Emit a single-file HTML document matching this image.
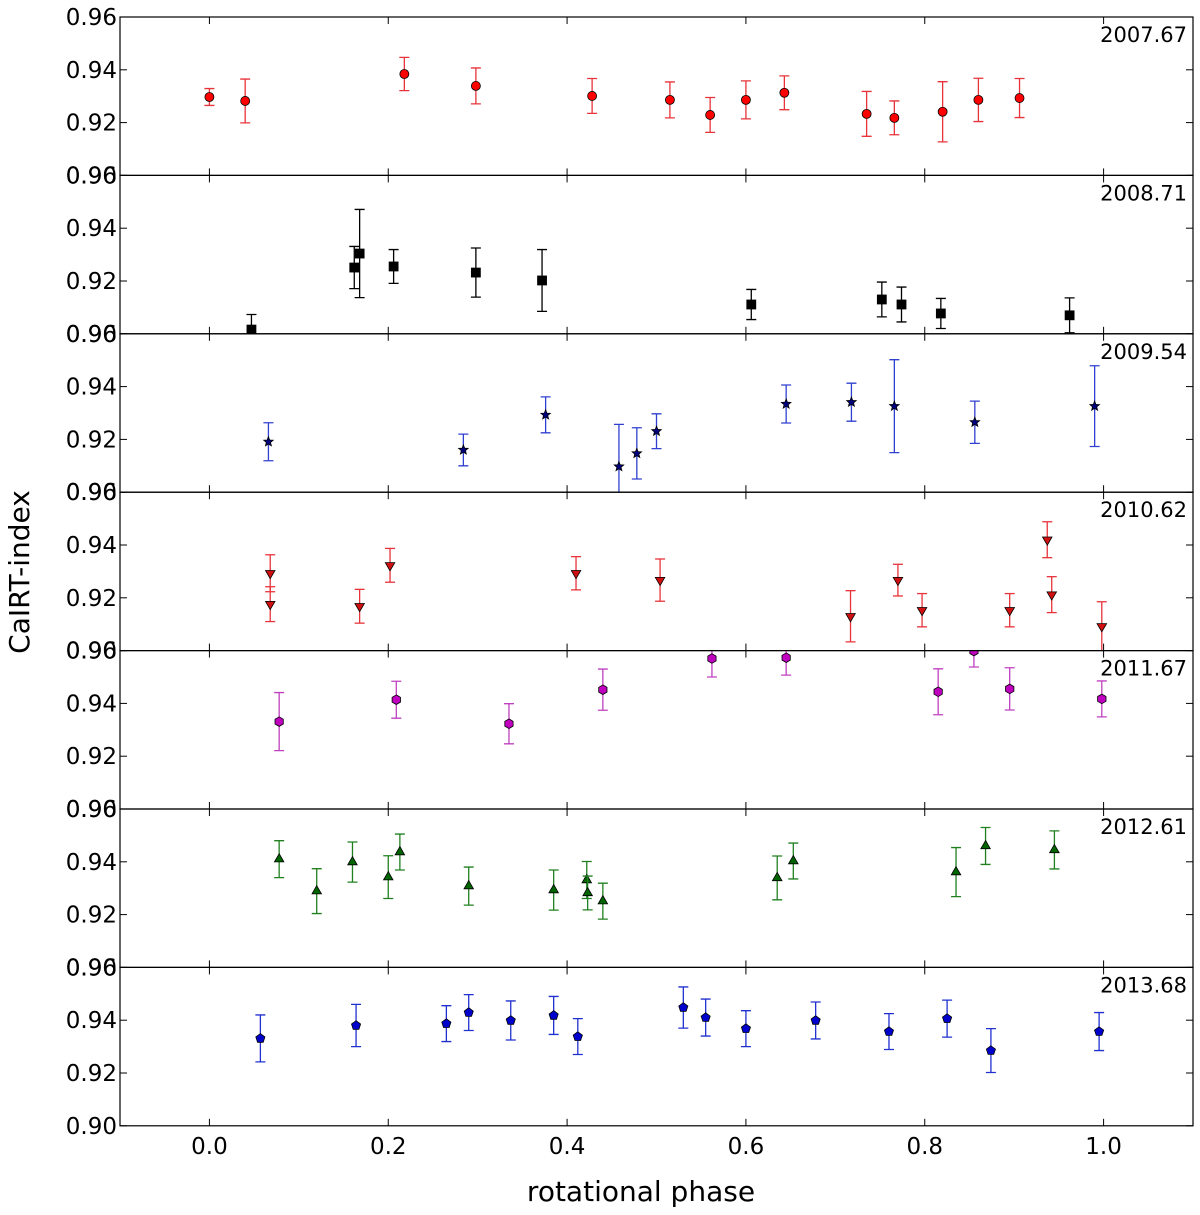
<!DOCTYPE html>
<html><head><meta charset="utf-8"><style>
html,body{margin:0;padding:0;background:#fff;}
svg{display:block;font-family:"DejaVu Sans","Liberation Sans",sans-serif;}
</style></head><body>
<svg id="chart" width="1200" height="1215" viewBox="0 0 1200 1215" xmlns="http://www.w3.org/2000/svg"></svg>
<script>
const years = ["2007.67","2008.71","2009.54","2010.62","2011.67","2012.61","2013.68"];
const yTickVals = [0.90,0.92,0.94,0.96];
const yTickLabels = ["0.90","0.92","0.94","0.96"];
const xTickVals = [0.0,0.2,0.4,0.6,0.8,1.0];
const xTickLabels = ["0.0","0.2","0.4","0.6","0.8","1.0"];

const phase2007 = [0.0,0.04,0.218,0.298,0.428,0.515,0.56,0.6,0.643,0.735,0.766,0.82,0.86,0.906];
const val2007 = [0.9297,0.9282,0.9384,0.9339,0.9301,0.9286,0.9229,0.9286,0.9313,0.9233,0.9218,0.9241,0.9286,0.9293];
const err2007 = [0.0032,0.0083,0.0063,0.0068,0.0066,0.0068,0.0066,0.0072,0.0064,0.0085,0.0064,0.0114,0.0082,0.0074];

const phase2008 = [0.047,0.162,0.168,0.206,0.298,0.372,0.606,0.752,0.774,0.818,0.962];
const val2008 = [0.9016,0.9251,0.9304,0.9255,0.9232,0.9202,0.9111,0.913,0.9111,0.9077,0.907];
const err2008 = [0.0057,0.008,0.0167,0.0064,0.0093,0.0117,0.0057,0.0066,0.0066,0.0057,0.0066];

const phase2009 = [0.066,0.284,0.376,0.458,0.478,0.5,0.645,0.718,0.766,0.856,0.99];
const val2009 = [0.9191,0.916,0.9293,0.9097,0.9147,0.9231,0.9334,0.9341,0.9326,0.9265,0.9326];
const err2009 = [0.0072,0.006,0.0068,0.016,0.0097,0.0066,0.0072,0.0072,0.0176,0.008,0.0153];

const phase2010 = [0.068,0.068,0.168,0.202,0.41,0.504,0.717,0.77,0.797,0.895,0.937,0.942,0.998];
const val2010 = [0.9293,0.9176,0.9168,0.9323,0.9293,0.9267,0.913,0.9267,0.9153,0.9153,0.942,0.9212,0.9092];
const err2010 = [0.007,0.0066,0.0064,0.0064,0.0063,0.008,0.0097,0.006,0.0063,0.0063,0.0068,0.0068,0.0093];

const phase2011 = [0.078,0.209,0.335,0.44,0.562,0.645,0.815,0.855,0.895,0.998];
const val2011 = [0.9331,0.9414,0.9323,0.9452,0.957,0.9573,0.9444,0.9598,0.9455,0.9417];
const err2011 = [0.011,0.007,0.0076,0.0078,0.007,0.0066,0.0087,0.006,0.008,0.0068];

const phase2012 = [0.078,0.12,0.16,0.2,0.213,0.29,0.385,0.422,0.423,0.44,0.635,0.653,0.835,0.868,0.945];
const val2012 = [0.941,0.9289,0.9399,0.9342,0.9437,0.9308,0.9293,0.9331,0.9282,0.9251,0.9339,0.9403,0.9361,0.946,0.9445];
const err2012 = [0.007,0.0085,0.0076,0.0081,0.0068,0.0072,0.0076,0.007,0.0064,0.0068,0.0083,0.0068,0.0093,0.007,0.0072];

const phase2013 = [0.057,0.164,0.265,0.29,0.337,0.385,0.412,0.53,0.555,0.6,0.678,0.76,0.825,0.874,0.995];
const val2013 = [0.9331,0.938,0.9387,0.9429,0.9399,0.9418,0.9338,0.9448,0.941,0.9368,0.9399,0.9357,0.9406,0.9285,0.9357];
const err2013 = [0.0089,0.008,0.0068,0.0068,0.0074,0.0072,0.0068,0.0078,0.007,0.0068,0.007,0.0068,0.007,0.0083,0.0072];

const phases=[phase2007,phase2008,phase2009,phase2010,phase2011,phase2012,phase2013];
const vals=[val2007,val2008,val2009,val2010,val2011,val2012,val2013];
const errs=[err2007,err2008,err2009,err2010,err2011,err2012,err2013];
const styles=[
 {m:"circle",fill:"#ff0000",ec:"#e8333a"},
 {m:"square",fill:"#000000",ec:"#000000"},
 {m:"star",fill:"#000080",ec:"#3040d0"},
 {m:"tridown",fill:"#d01010",ec:"#e8333a"},
 {m:"hex",fill:"#bf00bf",ec:"#c040c0"},
 {m:"triup",fill:"#006400",ec:"#208020"},
 {m:"pent",fill:"#0000cc",ec:"#2030d0"}];

const svg=document.getElementById('chart');
const NS="http://www.w3.org/2000/svg";
const L=120,R=1193,T0=17,PH=158.4;
const X=v=>L+(v+0.1)/1.2*(R-L);
function mk(tag,attrs,parent){const e=document.createElementNS(NS,tag);for(const k in attrs)e.setAttribute(k,attrs[k]);(parent||svg).appendChild(e);return e;}
function poly(cx,cy,n,r,rot,inner){let pts=[];const k=inner?2*n:n;for(let i=0;i<k;i++){const a=rot+i*Math.PI*2/k;const rr=inner&&i%2?inner:r;pts.push((cx+rr*Math.sin(a)).toFixed(1)+","+(cy-rr*Math.cos(a)).toFixed(1));}return pts.join(" ");}

for(let p=0;p<7;p++){
  const top=T0+p*PH, bot=top+PH;
  const Y=v=>bot-(v-0.90)/0.06*PH;
  const g=mk('g',{});
  
  
  const cid='clip'+p;
  const cp=mk('clipPath',{id:cid},g);mk('rect',{x:L,y:top,width:R-L,height:PH},cp);
  yTickVals.forEach((v,i)=>{
    const y=Y(v);
    mk('line',{x1:L,x2:L+7,y1:y,y2:y,stroke:'#000','stroke-width':1},g);
    mk('line',{x1:R-7,x2:R,y1:y,y2:y,stroke:'#000','stroke-width':1},g);
    const t=mk('text',{x:L-3,y:y+8,'text-anchor':'end','font-size':23,fill:'#000'},g);
    t.textContent=yTickLabels[i];
    
    
  });
  xTickVals.forEach(v=>{
    const x=X(v);
    mk('line',{x1:x,x2:x,y1:top,y2:top+7,stroke:'#000','stroke-width':1},g);
    mk('line',{x1:x,x2:x,y1:bot-7,y2:bot,stroke:'#000','stroke-width':1},g);
  });
  const yl=mk('text',{x:1187,y:top+25,'text-anchor':'end','font-size':21,fill:'#000'},g);
  yl.textContent=years[p];
  
  
  const dg=mk('g',{'clip-path':'url(#'+cid+')'},g);
  const st=styles[p];
  phases[p].forEach((ph,i)=>{
    const x=X(ph),y=Y(vals[p][i]),y1=Y(vals[p][i]+errs[p][i]),y2=Y(vals[p][i]-errs[p][i]);
    const eb=mk('g',{stroke:st.ec,'stroke-width':1.3},dg);
    
    
    mk('line',{x1:x,x2:x,y1:y1,y2:y2},eb);
    mk('line',{x1:x-5,x2:x+5,y1:y1,y2:y1},eb);
    mk('line',{x1:x-5,x2:x+5,y1:y2,y2:y2},eb);
    let m;const a={fill:st.fill,stroke:'#000','stroke-width':0.8};
    if(st.m==='circle'){m=mk('circle',Object.assign({cx:x,cy:y,r:4.5},a),dg);}
    else if(st.m==='square'){m=mk('rect',Object.assign({x:x-4.5,y:y-4.5,width:9,height:9},a),dg);}
    else if(st.m==='star'){m=mk('polygon',Object.assign({points:poly(x,y,5,5,0,2.2)},a),dg);}
    else if(st.m==='tridown'){m=mk('polygon',Object.assign({points:poly(x,y,3,5.5,Math.PI)},a),dg);}
    else if(st.m==='triup'){m=mk('polygon',Object.assign({points:poly(x,y,3,5.5,0)},a),dg);}
    else if(st.m==='hex'){m=mk('polygon',Object.assign({points:poly(x,y,6,4.8,0)},a),dg);}
    else {m=mk('polygon',Object.assign({points:poly(x,y,5,4.8,0)},a),dg);}
    
    
  });
  mk('rect',{x:L,y:top,width:R-L,height:PH,fill:'none',stroke:'#000','stroke-width':1.2},g);
}
const bottom=T0+7*PH;
xTickVals.forEach((v,i)=>{
  const t=mk('text',{x:X(v),y:bottom+28,'text-anchor':'middle','font-size':23,fill:'#000'});
  t.textContent=xTickLabels[i];
  
  
});
const xt=mk('text',{x:641,y:1201,'text-anchor':'middle','font-size':28,fill:'#000'});
xt.textContent='rotational phase';


const yt=mk('text',{x:0,y:0,'text-anchor':'middle','font-size':28,fill:'#000',transform:'translate(29,572) rotate(-90)'});
yt.textContent='CaIRT-index';


</script>
</body></html>
